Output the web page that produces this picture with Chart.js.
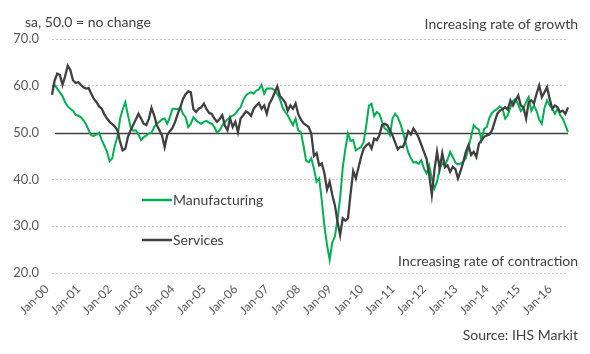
<!DOCTYPE html>
<html>
<head>
<meta charset="utf-8">
<style>
html,body{margin:0;padding:0;background:#ffffff;}
canvas{display:block;}
</style>
<script src="https://cdn.jsdelivr.net/npm/chart.js@4.4.0/dist/chart.umd.min.js"></script>
</head>
<body>
<canvas id="c" width="590" height="354"></canvas>
<script>
// ---- categories (monthly, Jan-00 .. Jun-16) ----
const monthAbbr = ['Jan','Feb','Mar','Apr','May','Jun','Jul','Aug','Sep','Oct','Nov','Dec'];
const categories = [];
for (let yr = 0; yr <= 16; yr++) {
  for (let m = 0; m < 12; m++) {
    if (yr === 16 && m > 5) break;
    categories.push(monthAbbr[m] + '-' + String(yr).padStart(2, '0'));
  }
}
const tickLabels = ['Jan-00','Jan-01','Jan-02','Jan-03','Jan-04','Jan-05','Jan-06','Jan-07','Jan-08',
                    'Jan-09','Jan-10','Jan-11','Jan-12','Jan-13','Jan-14','Jan-15','Jan-16'];
const yTicks = [20, 30, 40, 50, 60, 70];

// ---- series ----
const manufacturing = [
  59.9, 60.2, 59.4, 58.6, 57.8, 56.5, 55.6, 55.1, 54.7, 53.8, 53.6, 53.3,
  52.6, 51.8, 50.5, 49.4, 49.3, 49.6, 50.0, 48.4, 47.2, 45.9, 43.9, 44.5,
  47.3, 49.1, 53.0, 55.0, 56.5, 53.7, 51.2, 50.4, 50.5, 49.6, 48.4, 49.0,
  49.4, 49.8, 50.0, 51.2, 51.9, 52.3, 52.8, 53.0, 51.9, 53.3, 55.1, 55.1,
  55.0, 55.4, 54.0, 53.3, 51.2, 51.9, 53.3, 52.6, 52.2, 51.9, 52.3, 52.5,
  52.1, 51.9, 51.2, 50.0, 50.5, 51.5, 52.3, 52.8, 53.3, 53.6, 54.0, 54.8,
  55.4, 56.9, 57.9, 58.4, 58.6, 58.3, 59.0, 59.2, 60.2, 58.3, 59.4, 59.4,
  59.4, 59.0, 58.3, 57.2, 55.4, 54.4, 53.7, 52.6, 51.6, 53.0, 50.5, 50.1,
  47.3, 44.0, 43.7, 44.5, 42.3, 39.5, 40.2, 35.5, 30.0, 26.0, 22.8, 26.5,
  27.8, 31.5, 36.0, 42.5, 46.5, 49.8, 48.2, 48.4, 46.2, 46.6, 46.9, 48.0,
  51.6, 55.8, 56.2, 53.5, 54.4, 54.0, 52.3, 50.9, 50.5, 49.4, 53.0, 54.0,
  53.3, 51.9, 50.1, 47.9, 45.8, 44.5, 43.6, 43.7, 43.3, 44.1, 42.3, 41.3,
  43.0, 40.2, 38.1, 39.5, 42.3, 43.4, 43.0, 44.2, 45.9, 44.8, 43.6, 43.2,
  43.4, 43.8, 44.5, 46.8, 49.1, 51.6, 51.0, 50.6, 48.4, 50.8, 51.2, 53.2,
  54.2, 54.7, 55.1, 55.6, 55.1, 53.0, 53.7, 55.4, 56.8, 57.2, 56.0, 54.6,
  55.3, 56.5, 57.6, 54.7, 55.8, 54.6, 52.8, 51.9, 55.2, 56.9, 55.8, 55.1,
  54.0, 55.1, 53.7, 53.0, 51.6, 50.1
];
const services = [
  58.1, 61.1, 62.6, 62.3, 60.2, 62.0, 64.3, 63.4, 61.2, 60.6, 60.8, 60.2,
  59.7, 59.4, 59.5, 58.3, 57.2, 56.5, 55.6, 55.1, 53.9, 53.0, 52.3, 51.8,
  51.3, 50.5, 48.0, 46.2, 46.6, 49.1, 50.5, 51.6, 52.8, 54.0, 53.0, 51.9,
  51.6, 53.0, 55.3, 53.7, 51.6, 50.5, 49.4, 46.9, 49.5, 50.3, 51.0, 52.3,
  54.0, 55.4, 57.2, 58.2, 58.8, 58.6, 55.0, 54.4, 55.1, 55.4, 56.2, 55.0,
  54.2, 54.0, 53.0, 52.3, 52.9, 53.7, 51.5, 50.5, 53.0, 51.2, 52.3, 50.1,
  53.0, 53.7, 54.5, 54.2, 53.6, 55.1, 55.8, 56.3, 55.1, 55.8, 54.0, 56.2,
  57.2, 58.5, 59.9, 57.9, 57.2, 56.5, 54.7, 55.8, 55.1, 56.2, 54.0, 52.8,
  52.0, 51.6, 51.2, 49.8, 45.0, 45.6, 43.0, 43.4, 41.3, 37.8, 39.5, 36.7,
  34.5, 31.0, 28.1, 31.7, 31.2, 31.7, 37.0, 41.8, 40.2, 42.5, 44.8, 46.6,
  47.3, 47.7, 46.6, 48.7, 48.4, 49.4, 51.6, 51.9, 51.6, 50.5, 49.4, 47.9,
  46.4, 47.0, 46.9, 48.4, 50.3, 49.6, 50.9, 50.0, 48.9, 47.4, 45.9, 44.4,
  41.0, 36.7, 42.0, 45.9, 42.3, 45.6, 42.6, 43.0, 41.6, 42.7, 42.2, 40.2,
  41.8, 43.7, 45.9, 47.3, 45.2, 45.9, 44.8, 47.6, 48.4, 49.1, 49.4, 49.6,
  50.5, 52.3, 54.0, 54.7, 55.0, 55.4, 54.9, 56.9, 55.8, 56.9, 57.9, 55.8,
  55.4, 53.0, 56.5, 56.9, 56.2, 58.3, 60.1, 57.6, 58.6, 59.7, 57.2, 55.1,
  55.8, 55.4, 54.4, 54.7, 54.0, 55.4
];

// ---- texts ----
const seriesNames = ['Manufacturing', 'Services'];
const noteTopLeft = 'sa, 50.0 = no change';
const noteGrowth = 'Increasing rate of growth';
const noteContraction = 'Increasing rate of contraction';
const sourceText = 'Source: IHS Markit';
const noChangeLevel = 50;

const GREEN = '#00B050';
const GREY = '#404040';
const TEXT = '#404040';
const FONT = 'Lato, "Open Sans", sans-serif';

const overlay = {
  id: 'overlay',
  beforeDatasetsDraw(chart) {
    const {ctx, chartArea, scales} = chart;
    const py = Math.round(scales.y.getPixelForValue(noChangeLevel)) + 0.5;
    ctx.save();
    ctx.strokeStyle = '#404040';
    ctx.lineWidth = 1.5;
    ctx.beginPath();
    ctx.moveTo(chartArea.left + 3, py);
    ctx.lineTo(chartArea.right, py);
    ctx.stroke();
    ctx.restore();
  },
  afterDraw(chart) {
    const {ctx} = chart;
    ctx.save();
    ctx.fillStyle = TEXT;
    ctx.font = '14px ' + FONT;
    ctx.textBaseline = 'middle';
    ctx.textAlign = 'left';
    ctx.fillText(noteTopLeft, 25, 22);
    ctx.textAlign = 'right';
    ctx.fillText(noteGrowth, 578, 24);
    ctx.fillText(noteContraction, 578, 261);
    ctx.fillText(sourceText, 578, 335);
    // legend inside plot
    const items = [[seriesNames[0], GREEN, 200], [seriesNames[1], GREY, 240]];
    ctx.textAlign = 'left';
    items.forEach(([name, col, yy]) => {
      ctx.strokeStyle = col;
      ctx.lineWidth = 2.5;
      ctx.beginPath();
      ctx.moveTo(142, yy);
      ctx.lineTo(172, yy);
      ctx.stroke();
      ctx.fillStyle = TEXT;
      ctx.fillText(name, 173, yy);
    });
    ctx.restore();
  }
};

new Chart(document.getElementById('c'), {
  type: 'line',
  data: {
    labels: categories,
    datasets: [
      { label: seriesNames[0], data: manufacturing, borderColor: GREEN, borderWidth: 2,
        pointRadius: 0, tension: 0, fill: false, order: 1 },
      { label: seriesNames[1], data: services, borderColor: GREY, borderWidth: 2.3,
        pointRadius: 0, tension: 0, fill: false, order: 0 }
    ]
  },
  options: {
    responsive: false,
    devicePixelRatio: 1,
    animation: false,
    events: [],
    layout: { padding: { top: 39, right: 22, left: 0, bottom: 0 } },
    plugins: { legend: { display: false }, tooltip: { enabled: false }, title: { display: false } },
    scales: {
      x: {
        type: 'category',
        offset: false,
        grid: { display: false, drawTicks: false },
        border: { display: false },
        ticks: {
          autoSkip: false, maxRotation: 45, minRotation: 45, padding: 9, labelOffset: -5,
          color: '#595959', font: { family: FONT, size: 12 },
          callback: function(v, i) { return tickLabels.includes(categories[i]) ? categories[i] : null; }
        },
        afterFit: s => { s.height = 81; }
      },
      y: {
        min: 20, max: 70,
        afterBuildTicks: s => { s.ticks = yTicks.map(v => ({ value: v })); },
        grid: { color: c => (c.tick && c.tick.value === noChangeLevel) ? 'rgba(0,0,0,0)' : '#c8c8c8',
                lineWidth: 1, drawTicks: false },
        border: { display: false, dash: [2, 2] },
        ticks: { color: '#595959', font: { family: FONT, size: 13 }, padding: 13,
                 callback: v => Number(v).toFixed(1) },
        afterFit: s => { s.width = 52; }
      }
    }
  },
  plugins: [overlay]
});
</script>
</body>
</html>
